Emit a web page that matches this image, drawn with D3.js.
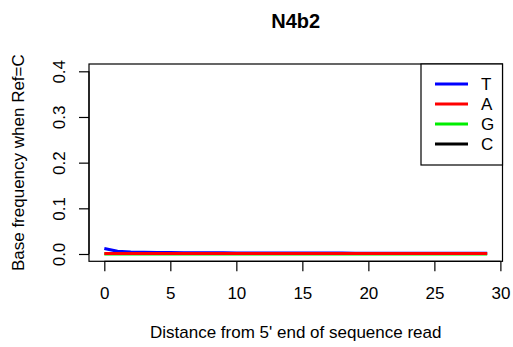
<!DOCTYPE html>
<html>
<head>
<meta charset="utf-8">
<script src="https://cdn.jsdelivr.net/npm/d3@7"></script>
<style>
  html, body { margin: 0; padding: 0; background: #fff; }
  svg { display: block; font-family: "Liberation Sans", Arial, Helvetica, sans-serif; }
</style>
</head>
<body>
<svg id="chart" width="513" height="347"></svg>
<script>
// Positions along the read (0-based)
const positions = d3.range(0, 30);

// Base frequencies at reference C sites, per position
const freqT = [0.0120, 0.0060, 0.0042, 0.0036, 0.0032, 0.0030, 0.0028, 0.0027, 0.0026, 0.0025,
               0.0024, 0.0023, 0.0022, 0.0022, 0.0021, 0.0021, 0.0020, 0.0020, 0.0020, 0.0019,
               0.0019, 0.0019, 0.0018, 0.0018, 0.0018, 0.0018, 0.0017, 0.0017, 0.0017, 0.0017];
const freqA = [0.0010, 0.0010, 0.0011, 0.0010, 0.0010, 0.0011, 0.0010, 0.0010, 0.0010, 0.0011,
               0.0010, 0.0010, 0.0010, 0.0011, 0.0010, 0.0010, 0.0010, 0.0010, 0.0011, 0.0010,
               0.0010, 0.0010, 0.0010, 0.0011, 0.0010, 0.0010, 0.0010, 0.0010, 0.0011, 0.0010];
const freqG = [0.0002, 0.0002, 0.0002, 0.0002, 0.0002, 0.0002, 0.0002, 0.0002, 0.0002, 0.0002,
               0.0002, 0.0002, 0.0002, 0.0002, 0.0002, 0.0002, 0.0002, 0.0002, 0.0002, 0.0002,
               0.0002, 0.0002, 0.0002, 0.0002, 0.0002, 0.0002, 0.0002, 0.0002, 0.0002, 0.0002];
const freqC = [0.9868, 0.9928, 0.9945, 0.9952, 0.9956, 0.9957, 0.9960, 0.9961, 0.9962, 0.9962,
               0.9964, 0.9965, 0.9966, 0.9965, 0.9967, 0.9967, 0.9968, 0.9968, 0.9967, 0.9969,
               0.9969, 0.9969, 0.9970, 0.9969, 0.9970, 0.9970, 0.9971, 0.9971, 0.9970, 0.9971];

const seriesNames = ["T", "A", "G", "C"];
const seriesColors = ["#0000ff", "#ff0000", "#00ee00", "#000000"];
const xTicks = [0, 5, 10, 15, 20, 25, 30];
const yTicks = [0.0, 0.1, 0.2, 0.3, 0.4];

const titleText = "N4b2";
const xLabel = "Distance from 5' end of sequence read";
const yLabel = "Base frequency when Ref=C";

const svg = d3.select("#chart");
const plot = { left: 89, right: 502.5, top: 64, bottom: 261.3 };
const fontSize = 17;

// R-style 4% padding on both axes
const xScale = d3.scaleLinear().domain([-1.16, 30.16]).range([plot.left, plot.right]);
const yScale = d3.scaleLinear().domain([-0.016, 0.416]).range([plot.bottom, plot.top]);

svg.append("defs").append("clipPath").attr("id", "plotClip")
  .append("rect")
  .attr("x", plot.left).attr("y", plot.top)
  .attr("width", plot.right - plot.left).attr("height", plot.bottom - plot.top);

// Lines
const lineGen = d3.line().x((d, i) => xScale(positions[i])).y(d => yScale(d));
const series = { T: freqT, A: freqA, G: freqG, C: freqC };
const drawOrder = ["C", "G", "T", "A"];
const lines = svg.append("g").attr("clip-path", "url(#plotClip)");
drawOrder.forEach(name => {
  lines.append("path")
    .datum(series[name])
    .attr("fill", "none")
    .attr("stroke", seriesColors[seriesNames.indexOf(name)])
    .attr("stroke-width", 3)
    .attr("stroke-linejoin", "round")
    .attr("d", lineGen);
});

// Plot frame
svg.append("rect")
  .attr("x", plot.left).attr("y", plot.top)
  .attr("width", plot.right - plot.left).attr("height", plot.bottom - plot.top)
  .attr("fill", "none").attr("stroke", "#000").attr("stroke-width", 1.2);

// X axis
const xAxis = d3.axisBottom(xScale).tickValues(xTicks).tickSize(10).tickPadding(16)
  .tickFormat(d3.format("d"));
const gx = svg.append("g").attr("transform", `translate(0,${plot.bottom})`).call(xAxis);
gx.select(".domain").attr("d", `M${xScale(0)},0H${xScale(30)}`).attr("stroke-width", 1.2);
gx.selectAll(".tick line").attr("stroke-width", 1.2);
gx.selectAll(".tick text").attr("font-size", fontSize).attr("fill", "#000")
  .attr("font-family", "Liberation Sans, Arial, sans-serif");

// Y axis
const yAxis = d3.axisLeft(yScale).tickValues(yTicks).tickSize(10)
  .tickFormat(d3.format(".1f"));
const gy = svg.append("g").attr("transform", `translate(${plot.left},0)`).call(yAxis);
gy.select(".domain").attr("d", `M0,${yScale(0)}V${yScale(0.4)}`).attr("stroke-width", 1.2);
gy.selectAll(".tick line").attr("stroke-width", 1.2);
gy.selectAll(".tick text")
  .attr("font-size", fontSize).attr("fill", "#000")
  .attr("font-family", "Liberation Sans, Arial, sans-serif")
  .attr("x", null).attr("dy", null)
  .attr("text-anchor", "middle")
  .attr("transform", "translate(-24,0) rotate(-90)");

// Title and axis labels
svg.append("text")
  .attr("x", (plot.left + plot.right) / 2).attr("y", 28)
  .attr("text-anchor", "middle").attr("font-size", 20).attr("font-weight", "bold")
  .text(titleText);
svg.append("text")
  .attr("x", (plot.left + plot.right) / 2).attr("y", 338)
  .attr("text-anchor", "middle").attr("font-size", fontSize)
  .text(xLabel);
svg.append("text")
  .attr("transform", `translate(24,${(plot.top + plot.bottom) / 2}) rotate(-90)`)
  .attr("text-anchor", "middle").attr("font-size", fontSize)
  .text(yLabel);

// Legend
const legend = svg.append("g");
legend.append("rect")
  .attr("x", 421).attr("y", plot.top)
  .attr("width", plot.right - 421).attr("height", 101)
  .attr("fill", "#fff").attr("stroke", "#000").attr("stroke-width", 1.2);
seriesNames.forEach((name, i) => {
  const y = 84 + i * 20;
  legend.append("line")
    .attr("x1", 435).attr("x2", 468).attr("y1", y).attr("y2", y)
    .attr("stroke", seriesColors[i]).attr("stroke-width", 3);
  legend.append("text")
    .attr("x", 481).attr("y", y).attr("dy", "0.36em")
    .attr("font-size", fontSize).text(name);
});
</script>
</body>
</html>
